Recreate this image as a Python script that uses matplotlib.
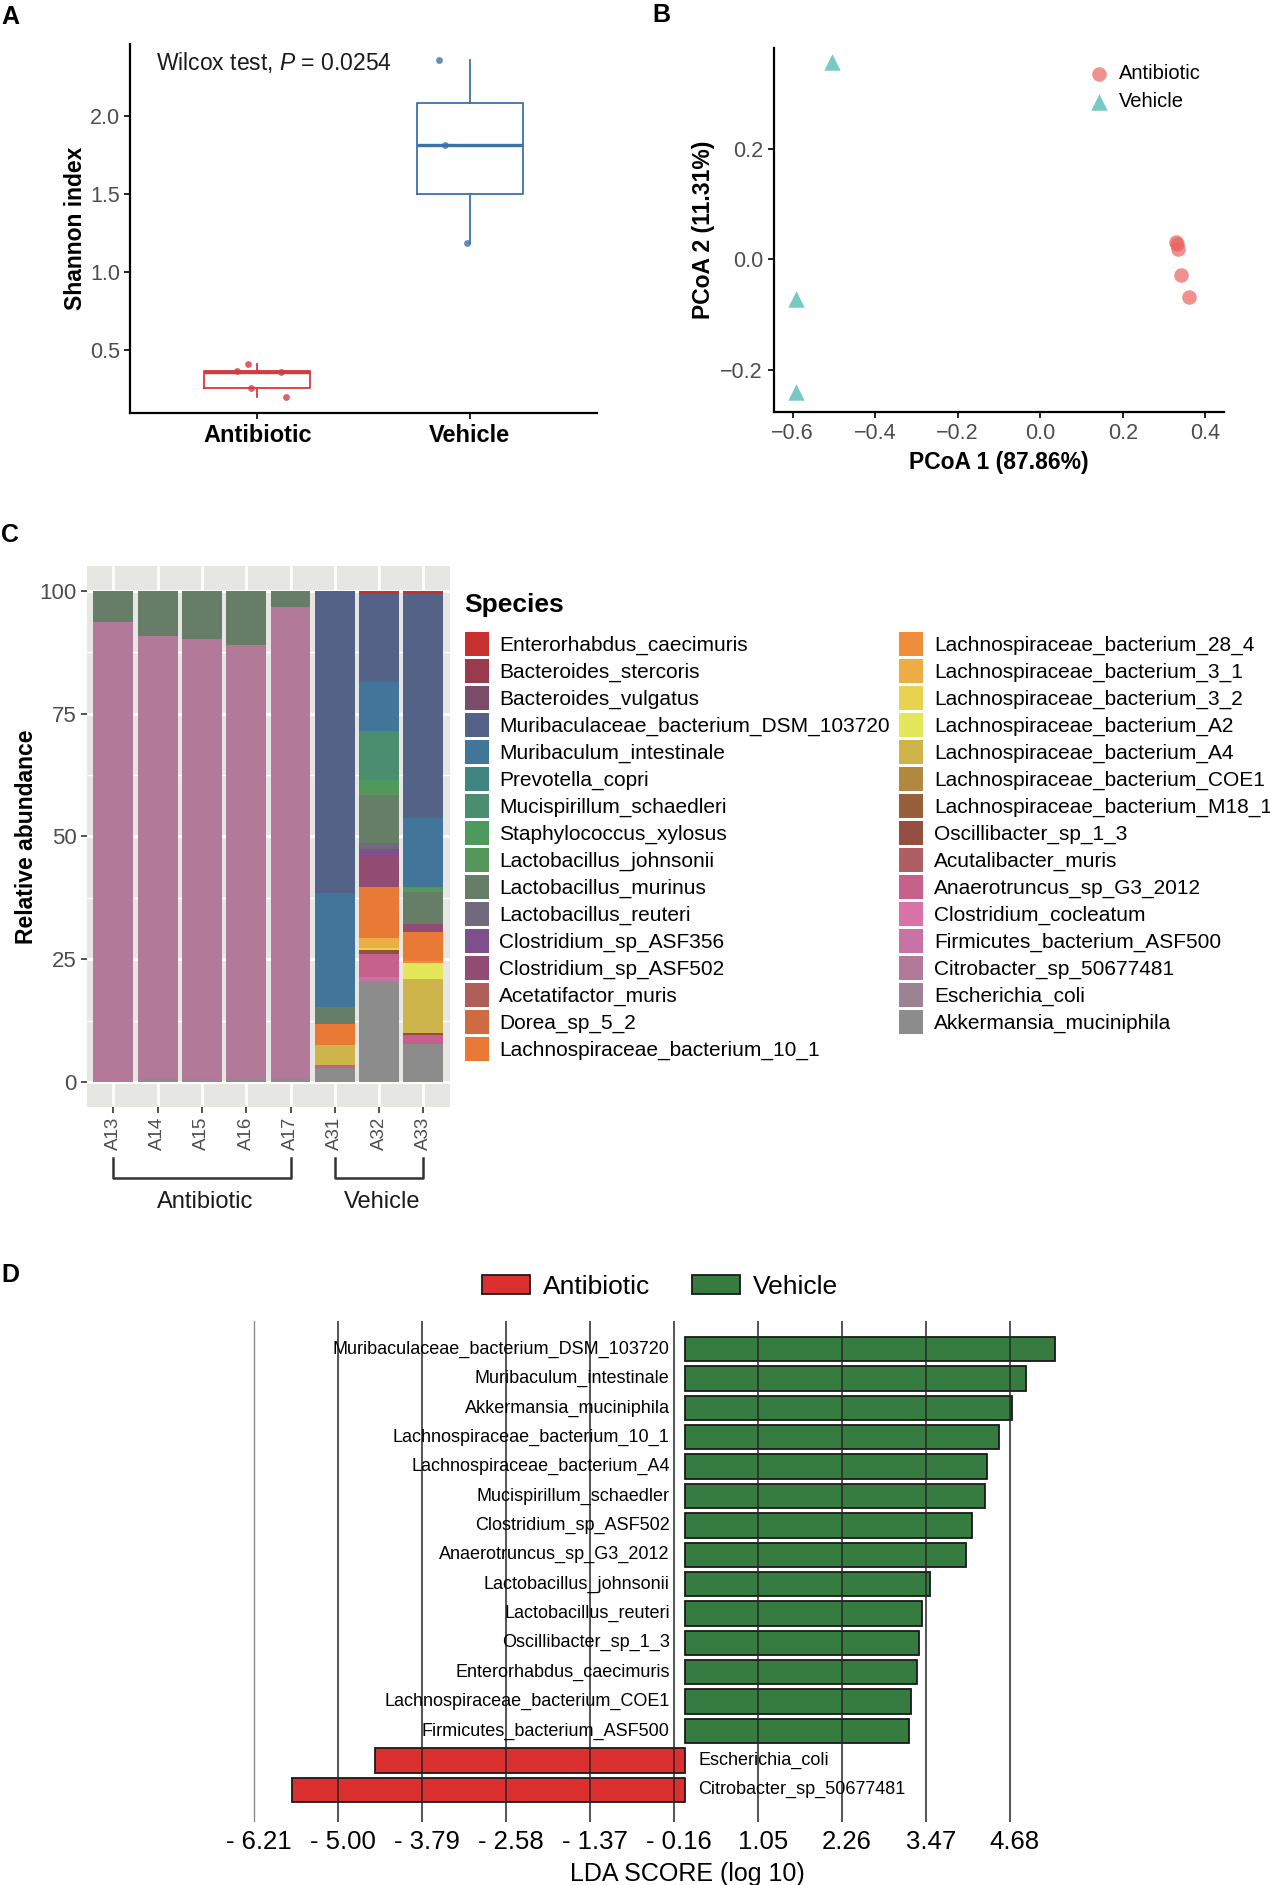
import matplotlib.pyplot as plt
import matplotlib.transforms as mtransforms
from matplotlib.patches import Patch
import numpy as np

plt.rcParams['font.family'] = ['Liberation Sans', 'DejaVu Sans']
plt.rcParams['mathtext.fontset'] = 'custom'
plt.rcParams['mathtext.it'] = 'Liberation Sans:italic'
plt.rcParams['mathtext.rm'] = 'Liberation Sans'

W, H = 1270, 1885
GREY_TXT = '#4D4D4D'

# ---------------- data ----------------
# A: Shannon index
groups = ['Antibiotic', 'Vehicle']
shannon_abx = [0.41, 0.368, 0.361, 0.254, 0.20]
shannon_veh = [2.355, 1.81, 1.184]
jitter_abx = [-0.046, -0.095, 0.109, -0.03, 0.134]
jitter_veh = [-0.143, -0.118, -0.013]
group_colors = ['#D63A3F', '#3D72A6']

# B: PCoA
pcoa_abx_x = [0.329, 0.331, 0.333, 0.342, 0.361]
pcoa_abx_y = [0.031, 0.028, 0.019, -0.029, -0.068]
pcoa_veh_x = [-0.505, -0.592, -0.592]
pcoa_veh_y = [0.357, -0.072, -0.240]

# C: relative abundance (legend order = top of stack first)
samples = ['A13', 'A14', 'A15', 'A16', 'A17', 'A31', 'A32', 'A33']
species = ['Enterorhabdus_caecimuris', 'Bacteroides_stercoris', 'Bacteroides_vulgatus',
           'Muribaculaceae_bacterium_DSM_103720', 'Muribaculum_intestinale', 'Prevotella_copri',
           'Mucispirillum_schaedleri', 'Staphylococcus_xylosus', 'Lactobacillus_johnsonii',
           'Lactobacillus_murinus', 'Lactobacillus_reuteri', 'Clostridium_sp_ASF356',
           'Clostridium_sp_ASF502', 'Acetatifactor_muris', 'Dorea_sp_5_2',
           'Lachnospiraceae_bacterium_10_1', 'Lachnospiraceae_bacterium_28_4',
           'Lachnospiraceae_bacterium_3_1', 'Lachnospiraceae_bacterium_3_2',
           'Lachnospiraceae_bacterium_A2', 'Lachnospiraceae_bacterium_A4',
           'Lachnospiraceae_bacterium_COE1', 'Lachnospiraceae_bacterium_M18_1',
           'Oscillibacter_sp_1_3', 'Acutalibacter_muris', 'Anaerotruncus_sp_G3_2012',
           'Clostridium_cocleatum', 'Firmicutes_bacterium_ASF500', 'Citrobacter_sp_50677481',
           'Escherichia_coli', 'Akkermansia_muciniphila']
species_colors = ['#C8302F', '#9A3A4E', '#7A4C6A', '#556287', '#41769A', '#3F8582',
                  '#4A8E6F', '#4E9A5E', '#55965A', '#667E68', '#706A7C', '#7D4F8C',
                  '#924C73', '#AE5F5A', '#CF6B43', '#E97A35', '#EF8D3A', '#ECAD45',
                  '#E9D24F', '#E5E75A', '#CDB44B', '#B08840', '#95603A', '#944F42',
                  '#AE5F64', '#C5618A', '#D873A8', '#C873A4', '#B27A98', '#9D8391',
                  '#8C8C8C']
abundance = [
    [0, 0, 0, 0, 0, 0, 0.7, 0.6],
    [0, 0, 0, 0, 0, 0, 0, 0],
    [0, 0, 0, 0, 0, 0, 0, 0],
    [0, 0, 0, 0, 0, 61.4, 17.8, 45.6],
    [0, 0, 0, 0, 0, 23.3, 10.1, 14.0],
    [0, 0, 0, 0, 0, 0, 0, 0],
    [0, 0, 0, 0, 0, 0, 9.9, 0],
    [0, 0, 0, 0, 0, 0, 1.5, 0],
    [0, 0, 0, 0, 0, 0, 1.6, 1.1],
    [6.3, 9.2, 9.8, 11.0, 3.4, 3.4, 9.8, 6.4],
    [0, 0, 0, 0, 0, 0, 1.1, 0],
    [0, 0, 0, 0, 0, 0, 1.3, 0],
    [0, 0, 0, 0, 0, 0, 6.4, 1.7],
    [0, 0, 0, 0, 0, 0, 0, 0],
    [0, 0, 0, 0, 0, 0, 0, 0],
    [0, 0, 0, 0, 0, 4.3, 10.5, 5.9],
    [0, 0, 0, 0, 0, 0, 0, 0.4],
    [0, 0, 0, 0, 0, 0, 1.9, 0],
    [0, 0, 0, 0, 0, 0, 0.5, 0],
    [0, 0, 0, 0, 0, 0, 0, 3.3],
    [0, 0, 0, 0, 0, 4.0, 0, 11.0],
    [0, 0, 0, 0, 0, 0, 0, 0],
    [0, 0, 0, 0, 0, 0, 0, 0],
    [0, 0, 0, 0, 0, 0, 0.8, 0.3],
    [0, 0, 0, 0, 0, 0, 0, 0],
    [0, 0, 0, 0, 0, 0.7, 4.7, 1.9],
    [0, 0, 0, 0, 0, 0, 0, 0],
    [0, 0, 0, 0, 0, 0, 0.7, 0],
    [93.7, 89.9, 89.6, 87.9, 95.8, 0, 0, 0],
    [0, 0.9, 0.6, 1.1, 0.8, 0, 0, 0],
    [0, 0, 0, 0, 0, 2.9, 20.7, 7.8],
]

# D: LEfSe
lda_species = ['Muribaculaceae_bacterium_DSM_103720', 'Muribaculum_intestinale',
               'Akkermansia_muciniphila', 'Lachnospiraceae_bacterium_10_1',
               'Lachnospiraceae_bacterium_A4', 'Mucispirillum_schaedler',
               'Clostridium_sp_ASF502', 'Anaerotruncus_sp_G3_2012', 'Lactobacillus_johnsonii',
               'Lactobacillus_reuteri', 'Oscillibacter_sp_1_3', 'Enterorhabdus_caecimuris',
               'Lachnospiraceae_bacterium_COE1', 'Firmicutes_bacterium_ASF500',
               'Escherichia_coli', 'Citrobacter_sp_50677481']
lda_scores = [5.33, 4.92, 4.71, 4.53, 4.35, 4.32, 4.13, 4.05, 3.53, 3.41, 3.37, 3.35,
              3.26, 3.23, -4.47, -5.66]
lda_ticks = [-6.21, -5.00, -3.79, -2.58, -1.37, -0.16, 1.05, 2.26, 3.47, 4.68]
lda_colors = {'Antibiotic': '#DC2F2F', 'Vehicle': '#367B3F'}


def ax_rect(left, top, right, bottom):
    return [left / W, 1 - bottom / H, (right - left) / W, (bottom - top) / H]


fig = plt.figure(figsize=(W / 100, H / 100), dpi=100)

# ---------------- A ----------------
axA = fig.add_axes(ax_rect(130, 44, 597, 413))
bp = axA.boxplot([shannon_abx, shannon_veh], positions=[1, 2], widths=0.5,
                 showfliers=False, showcaps=False)
for i, c in enumerate(group_colors):
    bp['boxes'][i].set(color=c, lw=1.3)
    bp['medians'][i].set(color=c, lw=2.4)
    for w in bp['whiskers'][2 * i:2 * i + 2]:
        w.set(color=c, lw=1.3)
axA.scatter(1 + np.array(jitter_abx), shannon_abx, s=24, color=group_colors[0], alpha=0.8, zorder=3, lw=0)
axA.scatter(2 + np.array(jitter_veh), shannon_veh, s=24, color=group_colors[1], alpha=0.8, zorder=3, lw=0)
axA.set_xlim(0.4, 2.6)
axA.set_ylim(0.096, 2.46)
axA.set_yticks([0.5, 1.0, 1.5, 2.0])
axA.set_xticks([1, 2])
axA.set_xticklabels(groups, fontsize=17, fontweight='bold')
for lbl, dx in zip(axA.get_xticklabels(), [9, 3]):
    lbl.set_transform(lbl.get_transform() + mtransforms.ScaledTranslation(dx / 100, 0, fig.dpi_scale_trans))
axA.tick_params(axis='y', labelsize=15.5, labelcolor=GREY_TXT, length=4, width=1.2, pad=3)
axA.tick_params(axis='x', length=4, width=1.2, pad=4)
for s in ['top', 'right']:
    axA.spines[s].set_visible(False)
for s in ['left', 'bottom']:
    axA.spines[s].set_linewidth(1.6)
axA.set_ylabel('Shannon index', fontsize=16.5, fontweight='bold')
axA.yaxis.set_label_coords(-0.092, 0.5)
axA.text(0.522, 2.34, r'Wilcox test, $\it{P}$ = 0.0254', fontsize=16.5, va='center', color='#1A1A1A')

# ---------------- B ----------------
axB = fig.add_axes(ax_rect(774, 48, 1224, 412))
axB.scatter(pcoa_abx_x, pcoa_abx_y, s=110, marker='o', color='#EA635F', alpha=0.7, lw=0, label='Antibiotic')
axB.scatter(pcoa_veh_x, pcoa_veh_y, s=140, marker='^', color='#3DB4AA', alpha=0.7, lw=0, label='Vehicle')
axB.set_xlim(-0.645, 0.445)
axB.set_ylim(-0.276, 0.382)
axB.set_xticks([-0.6, -0.4, -0.2, 0.0, 0.2, 0.4])
axB.set_yticks([-0.2, 0.0, 0.2])
axB.tick_params(labelsize=15.5, labelcolor=GREY_TXT, length=4, width=1.2, pad=4)
for s in ['top', 'right']:
    axB.spines[s].set_visible(False)
for s in ['left', 'bottom']:
    axB.spines[s].set_linewidth(1.6)
axB.set_xlabel('PCoA 1 (87.86%)', fontsize=16.5, fontweight='bold')
axB.xaxis.set_label_coords(0.5, -0.107)
axB.set_ylabel('PCoA 2 (11.31%)', fontsize=16.5, fontweight='bold')
axB.yaxis.set_label_coords(-0.131, 0.5)
axB.legend(loc='upper left', bbox_to_anchor=(1087 / W, 1 - 64 / H), bbox_transform=fig.transFigure,
           frameon=False, fontsize=14.5, handletextpad=0.4, labelspacing=0.45, borderpad=0,
           borderaxespad=0, handlelength=1.2)

# ---------------- C ----------------
axC = fig.add_axes(ax_rect(86.7, 566, 450, 1107))
axC.set_facecolor('#E6E6E3')
xpos = np.arange(len(samples))
bottom = np.zeros(len(samples))
handles = {}
for name, col, vals in reversed(list(zip(species, species_colors, abundance))):
    vals = np.array(vals, dtype=float)
    handles[name] = axC.bar(xpos, vals, bottom=bottom, width=0.9, color=col, lw=0, zorder=2)
    bottom += vals
axC.set_xlim(-0.6, 7.6)
axC.set_ylim(-5, 105)
axC.set_yticks([0, 25, 50, 75, 100])
axC.set_yticks([12.5, 37.5, 62.5, 87.5], minor=True)
axC.set_xticks(xpos)
axC.set_xticklabels(samples, rotation=90, fontsize=13.5, color=GREY_TXT)
axC.grid(which='major', color='white', lw=2.0, zorder=0)
axC.grid(which='minor', axis='y', color='white', lw=1.0, zorder=0)
axC.set_axisbelow(True)
axC.tick_params(axis='y', which='major', labelsize=16, labelcolor=GREY_TXT, length=4,
                width=1.2, color='#333333', pad=3)
axC.tick_params(axis='y', which='minor', length=0)
axC.tick_params(axis='x', length=4, width=1.2, color='#333333', pad=3)
for s in axC.spines.values():
    s.set_visible(False)
axC.set_ylabel('Relative abundance', fontsize=16.5, fontweight='bold')
axC.yaxis.set_label_coords(-0.135, 0.5)

trans = mtransforms.blended_transform_factory(axC.transData, axC.transAxes)
for (x0, x1, lab) in [(0, 4, 'Antibiotic'), (5, 7, 'Vehicle')]:
    axC.plot([x0, x0, x1, x1], [-0.0943, -0.131, -0.131, -0.0943], transform=trans,
             color='#333333', lw=1.8, clip_on=False)
    axC.text((x0 + x1) / 2 + 0.07, -0.176, lab, transform=trans, ha='center', va='center',
             fontsize=17, color='#1A1A1A')

fig.text(464 / W, 1 - 605 / H, 'Species', fontsize=19, fontweight='bold', va='center', ha='left')
fig.legend([handles[n] for n in species], species, loc='upper left',
           bbox_to_anchor=(465 / W, 1 - 632 / H), ncol=2, frameon=False, fontsize=15,
           handlelength=1.15, handleheight=1.4, labelspacing=0.14, handletextpad=0.5,
           columnspacing=0.45, borderpad=0, borderaxespad=0)

# ---------------- D ----------------
axD = fig.add_axes(ax_rect(240, 1321, 1075, 1822))
ypos = np.arange(len(lda_species))
bar_cols = [lda_colors['Vehicle'] if v > 0 else lda_colors['Antibiotic'] for v in lda_scores]
axD.barh(ypos, lda_scores, height=0.83, color=bar_cols, edgecolor='#1A1A1A', lw=1.3, zorder=2)
for i, t in enumerate(lda_ticks):
    if i == 0:
        axD.axvline(t, color='#8C8C8C', lw=1.0, zorder=3)
    else:
        axD.axvline(t, color='#262626', lw=1.1, zorder=3)
for y, name, v in zip(ypos, lda_species, lda_scores):
    if v > 0:
        axD.text(-0.22, y, name, ha='right', va='center', fontsize=13, zorder=4)
    else:
        axD.text(0.19, y, name, ha='left', va='center', fontsize=13, zorder=4)
axD.set_xlim((240 - 685) / 69.4, (1075 - 685) / 69.4)
axD.set_ylim(15 + 1.1, -0.96)
axD.set_xticks(lda_ticks)
axD.set_xticklabels([('- %.2f' % abs(t)) if t < 0 else '%.2f' % t for t in lda_ticks])
axD.tick_params(axis='x', length=0, labelsize=18.5, pad=6)
for lbl in axD.get_xticklabels():
    lbl.set_transform(lbl.get_transform() + mtransforms.ScaledTranslation(0.05, 0, fig.dpi_scale_trans))
axD.set_yticks([])
for s in axD.spines.values():
    s.set_visible(False)
axD.set_xlabel('LDA SCORE (log 10)', fontsize=18)
axD.xaxis.set_label_coords((687 - 240) / 835, -0.079)
fig.legend([Patch(fc=lda_colors['Antibiotic'], ec='#1A1A1A', lw=1.3),
            Patch(fc=lda_colors['Vehicle'], ec='#1A1A1A', lw=1.3)],
           ['Antibiotic', 'Vehicle'], loc='center', bbox_to_anchor=(660 / W, 1 - 1287 / H),
           ncol=2, frameon=False, fontsize=19, handlelength=1.82, handleheight=0.73,
           handletextpad=0.49, columnspacing=1.6, borderpad=0)

# panel letters
for lab, x, y in [('A', 10, 17), ('B', 661, 15), ('C', 10, 535), ('D', 10, 1275)]:
    fig.text(x / W, 1 - y / H, lab, fontsize=18, fontweight='bold', ha='center', va='center')

fig.savefig('out.png', dpi=100)
